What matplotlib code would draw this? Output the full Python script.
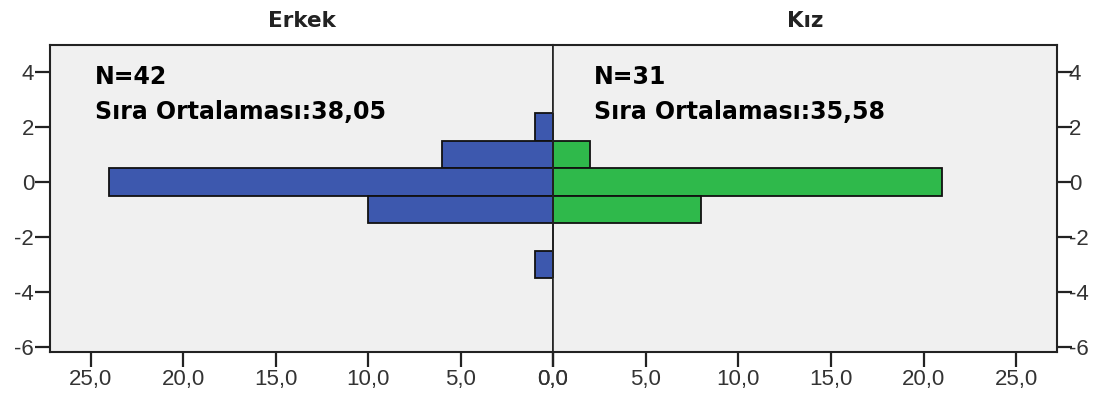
import matplotlib.pyplot as plt
import numpy as np

plt.rcParams['font.family'] = ['Liberation Sans', 'DejaVu Sans']
plt.rcParams['axes.unicode_minus'] = False

# bin centres (value of the variable) and counts per group
bins = [2, 1, 0, -1, -2, -3]
erkek_counts = [1, 6, 24, 10, 0, 1]
kiz_counts = [0, 2, 21, 8, 0, 0]

groups = ['Erkek', 'Kız']
n_values = [42, 31]
rank_means = ['38,05', '35,58']

x_ticks = [0, 5, 10, 15, 20, 25]
y_ticks = [-6, -4, -2, 0, 2, 4]

blue = '#3D58AE'
green = '#2FB94B'
bg = '#F0F0F0'

fig = plt.figure(figsize=(10.99, 4.01), dpi=100)
ax_l = fig.add_axes([0.0455, 0.122, 0.4577, 0.766])
ax_r = fig.add_axes([0.5032, 0.122, 0.4586, 0.766])

ax_l.barh(bins, erkek_counts, height=1.0, color=blue, edgecolor='#111111', linewidth=1.3)
ax_r.barh(bins, kiz_counts, height=1.0, color=green, edgecolor='#111111', linewidth=1.3)

for ax in (ax_l, ax_r):
    ax.set_facecolor(bg)
    ax.set_ylim(-6.2, 5.0)
    ax.set_xlim(0, 27.2)
    ax.set_yticks(y_ticks)
    ax.set_xticks(x_ticks)
    ax.set_xticklabels([('%.1f' % t).replace('.', ',') for t in x_ticks])
    ax.tick_params(axis='both', labelsize=16, labelcolor='#333333',
                   length=10.5, width=1.6, color='#222222')
    ax.tick_params(axis='x', pad=2)
    for s in ax.spines.values():
        s.set_linewidth(1.5)
        s.set_color('#222222')

ax_l.invert_xaxis()
ax_l.tick_params(axis='y', pad=1)
ax_r.yaxis.tick_right()
ax_r.tick_params(axis='y', pad=-2)
ax_r.spines['left'].set_linewidth(1.2)
ax_l.spines['right'].set_linewidth(1.2)

label_font = dict(family='DejaVu Sans', fontweight='bold')
text_x = [0.089, 0.081]
for ax, name, n, rm, tx in zip((ax_l, ax_r), groups, n_values, rank_means, text_x):
    ax.text(0.5, 1.058, name, transform=ax.transAxes, fontsize=15.5,
            color='#222222', ha='center', va='baseline', **label_font)
    ax.text(tx, 0.873, 'N=%d' % n, transform=ax.transAxes, fontsize=17,
            color='black', va='baseline', ha='left', **label_font)
    ax.text(tx, 0.759, 'Sıra Ortalaması:%s' % rm, transform=ax.transAxes,
            fontsize=17, color='black', va='baseline', ha='left', **label_font)

fig.savefig('out.png', dpi=100)
